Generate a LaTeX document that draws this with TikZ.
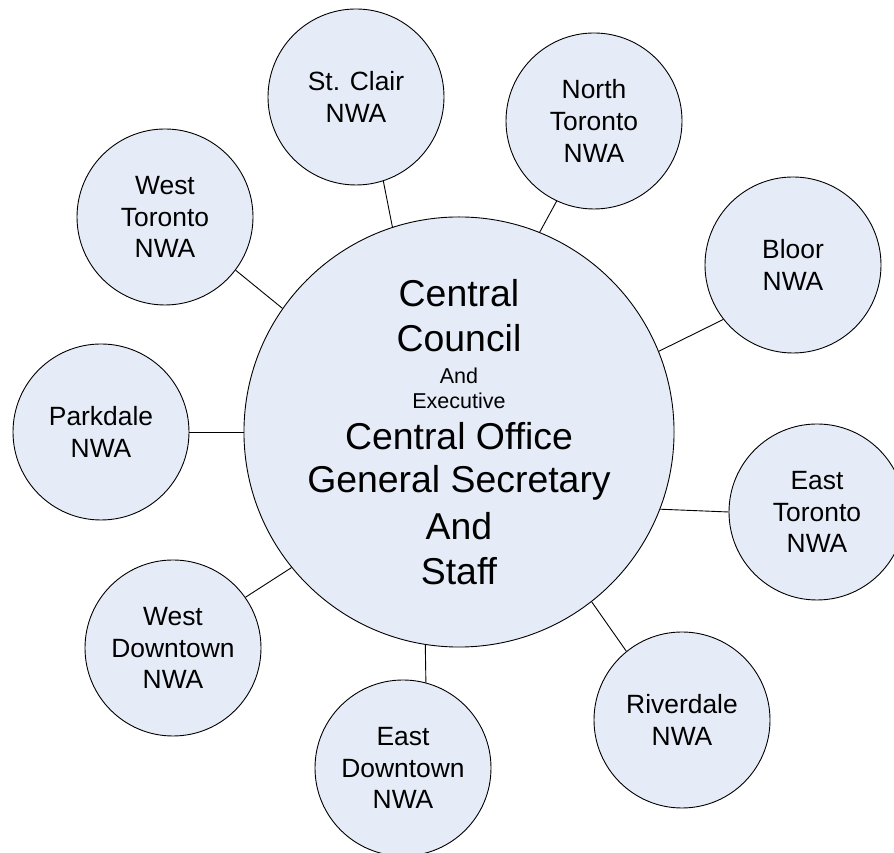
\documentclass[tikz,border=0pt]{standalone}
\usepackage{fontspec}
\setmainfont{Liberation Sans}
\definecolor{nwafill}{RGB}{230,236,247}

\begin{document}
\begin{tikzpicture}[x=1pt,y=1pt,
    nwa/.style={circle,draw=black,line width=0.9pt,fill=nwafill,minimum size=176pt,inner sep=0pt,align=center,font=\fontsize{26.4}{31.7}\selectfont},
    council/.style={circle,draw=black,line width=0.9pt,fill=nwafill,minimum size=416pt,inner sep=0pt,align=center,font=\fontsize{37.4}{45}\selectfont},
    link/.style={draw=black,line width=0.9pt}]
    \providecommand{\smalltextsize}{\fontsize{21.5}{25}\selectfont}
    \useasboundingbox (0,0) rectangle (894,853);
    \clip (0,0) rectangle (894,853);
    \node[council] (central) at (459,421) {Central\\Council\\[-12.7pt]{\smalltextsize And}\\[-19.7pt]{\smalltextsize Executive}\\[-4.3pt]Central Office\\[-1.7pt]General Secretary\\[1.7pt]And\\Staff};
    \node[nwa] (stclair) at (356,756) {St. Clair\\NWA};
    \node[nwa] (northtoronto) at (594,732) {North\\Toronto\\NWA};
    \node[nwa] (bloor) at (793,588) {Bloor\\NWA};
    \node[nwa] (easttoronto) at (817,341) {East\\Toronto\\NWA};
    \node[nwa] (riverdale) at (682,133) {Riverdale\\NWA};
    \node[nwa] (eastdowntown) at (403,85) {East\\Downtown\\NWA};
    \node[nwa] (westdowntown) at (173,205) {West\\Downtown\\NWA};
    \node[nwa] (parkdale) at (101,421) {Parkdale\\NWA};
    \node[nwa] (westtoronto) at (165,636) {West\\Toronto\\NWA};
    % spokes
    \draw[link] (central.108.5) -- (stclair.-72);
    \draw[link] (central.68) -- (northtoronto.245.5);
    \draw[link] (central.22) -- (bloor.218);
    \draw[link] (central.-21) -- (easttoronto.180);
    \draw[link] (central.-52) -- (riverdale.129.5);
    \draw[link] (central.261) -- (eastdowntown.75.7);
    \draw[link] (central.219.6) -- (westdowntown.35.3);
    \draw[link] (central.180) -- (parkdale.0);
    \draw[link] (central.145) -- (westtoronto.-37.6);
\end{tikzpicture}
\end{document}
